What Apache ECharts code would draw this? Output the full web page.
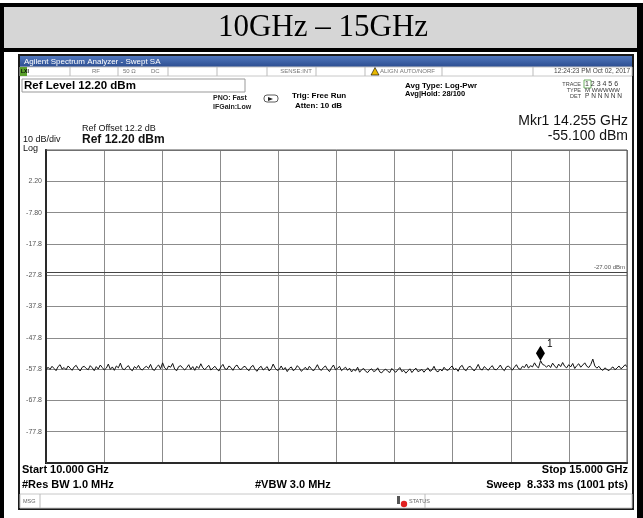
<!DOCTYPE html>
<html>
<head>
<meta charset="utf-8">
<script src="https://cdn.jsdelivr.net/npm/echarts@6/dist/echarts.min.js"></script>
<style>
  html, body { margin: 0; padding: 0; background: #fff; }
  #chart { width: 643px; height: 518px; }
</style>
</head>
<body>
<div id="chart"></div>
<script>
// sweep settings
const freqStart = 10;      // GHz
const freqStop = 15;       // GHz
const refLevel = 12.2;     // dBm
const dbPerDiv = 10;
const displayLine = -27.0; // dBm
const marker = { freq: 14.255, dbm: -55.1 };

// trace, dBm (evenly spaced from start to stop)
const traceDbm = [
  -58.1,-57.2,-57.9,-56.9,-57.6,-58.3,-57.0,-56.4,-57.8,-57.3,
  -58.0,-56.8,-57.5,-58.2,-57.1,-56.6,-57.7,-58.4,-57.2,-56.9,
  -57.6,-58.0,-56.7,-57.4,-58.3,-57.0,-57.8,-56.5,-57.3,-58.1,
  -57.5,-56.2,-57.9,-57.1,-58.2,-56.8,-57.4,-55.9,-57.7,-58.0,
  -57.2,-56.7,-57.9,-58.3,-57.0,-57.6,-56.6,-57.8,-58.1,-57.3,
  -56.9,-57.6,-56.3,-57.9,-58.2,-57.1,-56.5,-57.7,-55.8,-57.4,
  -58.0,-56.8,-57.2,-56.0,-57.8,-58.3,-57.0,-56.7,-57.5,-58.1,
  -57.3,-56.4,-57.9,-57.0,-58.2,-56.9,-57.6,-56.1,-57.4,-58.0,
  -57.2,-56.6,-58.1,-57.5,-56.9,-57.8,-58.4,-57.1,-56.3,-57.7,
  -57.9,-56.8,-57.3,-58.2,-57.0,-56.5,-57.6,-58.0,-57.2,-56.9,
  -57.8,-58.3,-57.1,-56.6,-57.9,-58.5,-57.4,-56.9,-58.1,-57.6,
  -57.0,-58.4,-57.7,-56.2,-57.5,-58.2,-57.9,-56.8,-58.0,-57.3,
  -58.6,-57.6,-57.1,-58.3,-57.8,-56.7,-57.4,-58.5,-57.9,-57.2,
  -58.1,-56.9,-57.7,-58.4,-57.5,-56.4,-57.8,-58.2,-57.3,-56.8,
  -57.9,-58.6,-57.4,-56.5,-58.0,-57.6,-56.9,-58.3,-57.7,-57.2,
  -58.2,-57.5,-58.7,-57.9,-58.4,-57.2,-58.8,-58.0,-57.6,-58.5,
  -58.9,-58.1,-57.7,-58.6,-58.3,-57.4,-58.7,-59.0,-58.2,-57.8,
  -58.5,-58.9,-57.6,-58.3,-58.8,-58.0,-57.3,-58.6,-58.2,-59.1,
  -58.4,-57.7,-58.9,-58.1,-57.5,-58.6,-58.3,-57.9,-58.8,-58.0,
  -57.4,-58.5,-58.1,-56.9,-58.3,-58.7,-57.8,-58.4,-57.2,-58.0,
  -58.2,-57.4,-56.8,-58.0,-57.6,-58.5,-57.1,-56.6,-57.9,-58.3,
  -57.2,-56.9,-57.7,-58.4,-57.5,-56.3,-57.8,-58.1,-57.0,-57.6,
  -58.2,-57.3,-56.7,-57.9,-58.0,-57.4,-56.5,-57.7,-58.3,-57.1,
  -56.8,-57.5,-58.1,-57.2,-56.4,-57.6,-57.9,-56.9,-57.3,-56.2,
  -57.5,-56.7,-57.1,-55.8,-56.9,-57.4,-55.1,-56.3,-56.6,-57.2,
  -56.5,-57.3,-55.9,-56.8,-57.5,-56.2,-57.0,-55.7,-56.9,-57.4,
  -56.4,-57.1,-56.0,-57.6,-56.7,-56.1,-57.2,-56.5,-55.8,-56.9,
  -57.3,-56.3,-54.6,-56.8,-57.5,-56.9,-57.8,-58.2,-57.4,-57.9,
  -58.3,-57.6,-57.1,-58.0,-57.5,-56.8,-57.7,-57.2,-56.4,-57.0
];

// graticule labels, bottom division line to top division line
const yTickLabels = ['-77.8', '-67.8', '-57.8', '-47.8', '-37.8', '-27.8', '-17.8', '-7.80', '2.20'];

const freqGHz = traceDbm.map((_, i) => freqStart + i * (freqStop - freqStart) / (traceDbm.length - 1));

const sans = '"Liberation Sans", Arial, sans-serif';

function txt(x, y, text, size, opts) {
  opts = opts || {};
  return {
    type: 'text', x: x, y: y, silent: true,
    style: {
      text: text,
      font: (opts.bold ? 'bold ' : '') + size + 'px ' + (opts.family || sans),
      fill: opts.color || '#000',
      textAlign: opts.align || 'left',
      textVerticalAlign: 'middle'
    }
  };
}
function rect(x, y, w, h, fill, stroke, lw) {
  return {
    type: 'rect', silent: true,
    shape: { x: x, y: y, width: w, height: h },
    style: { fill: fill || 'none', stroke: stroke || 'none', lineWidth: lw || 1 }
  };
}
function vline(x, y1, y2, color) {
  return { type: 'line', silent: true, shape: { x1: x, y1: y1, x2: x, y2: y2 }, style: { stroke: color || '#bbb', lineWidth: 1 } };
}

const chart = echarts.init(document.getElementById('chart'));

const graphics = [
  // outer table frame and header
  rect(0, 3, 643, 515, '#000'),
  rect(4, 7, 633, 41, '#d6d6d6'),
  rect(4, 52, 633, 466, '#fff'),
  txt(323, 28, '10GHz \u2013 15GHz', 31, { align: 'center', family: '"Liberation Serif", "Times New Roman", serif' }),

  // analyzer screen
  rect(19, 55, 614, 454, '#fff', '#1a1a1a', 2),
  {
    type: 'rect', silent: true,
    shape: { x: 20, y: 56, width: 612, height: 11 },
    style: {
      fill: { type: 'linear', x: 0, y: 0, x2: 0, y2: 1,
        colorStops: [{ offset: 0, color: '#5077bd' }, { offset: 1, color: '#2c4d90' }] }
    }
  },
  txt(24, 61.5, 'Agilent Spectrum Analyzer - Swept SA', 8, { color: '#fff' }),

  // status row
  rect(20, 67, 612, 9, '#fff', '#c8c8c8'),
  rect(20, 67, 7, 9, '#5aa02c'),
  txt(21, 71.5, 'LXI', 5, { bold: true }),
  vline(70, 67, 76), vline(118, 67, 76), vline(168, 67, 76), vline(217, 67, 76),
  vline(267, 67, 76), vline(316, 67, 76), vline(365, 67, 76), vline(442, 67, 76), vline(533, 67, 76),
  txt(96, 71.5, 'RF', 6, { color: '#777', align: 'center' }),
  txt(123, 71.5, '50 \u03a9', 6, { color: '#777' }),
  txt(151, 71.5, 'DC', 6, { color: '#777' }),
  txt(296, 71.5, 'SENSE:INT', 6, { color: '#777', align: 'center' }),
  { type: 'polygon', silent: true, shape: { points: [[371, 75], [375, 67.5], [379, 75]] }, style: { fill: '#e8b800', stroke: '#000', lineWidth: 0.6 } },
  txt(380, 71.5, 'ALIGN AUTO/NORF', 6, { color: '#777' }),
  txt(630, 71.5, '12:24:23 PM Oct 02, 2017', 6.5, { color: '#444', align: 'right' }),

  // settings area
  rect(22, 79, 223, 13, '#fff', '#999'),
  txt(24, 86, 'Ref Level 12.20 dBm', 11.5, { bold: true }),
  txt(213, 98, 'PNO: Fast', 7, { bold: true, color: '#222' }),
  txt(213, 107, 'IFGain:Low', 7, { bold: true, color: '#222' }),
  { type: 'rect', silent: true, shape: { x: 264, y: 95, width: 14, height: 7, r: 3 }, style: { fill: 'none', stroke: '#333', lineWidth: 0.8 } },
  { type: 'polygon', silent: true, shape: { points: [[268, 97], [273, 99], [268, 101]] }, style: { fill: '#222' } },
  txt(292, 96, 'Trig: Free Run', 8, { bold: true }),
  txt(295, 106, 'Atten: 10 dB', 8, { bold: true }),
  txt(405, 86, 'Avg Type: Log-Pwr', 8, { bold: true }),
  txt(405, 94, 'Avg|Hold: 28/100', 7.5, { bold: true }),
  txt(581, 84, 'TRACE', 5.5, { color: '#444', align: 'right' }),
  txt(581, 90, 'TYPE', 5.5, { color: '#444', align: 'right' }),
  txt(581, 96, 'DET', 5.5, { color: '#444', align: 'right' }),
  rect(584, 80, 7, 8, 'none', '#4a9a3a', 0.8),
  txt(585, 84, '1 2 3 4 5 6', 7, { color: '#333' }),
  txt(585, 90, 'M WWWWW', 6, { color: '#333' }),
  txt(585, 96.5, 'P N N N N N', 6.5, { color: '#333' }),
  txt(628, 121, 'Mkr1 14.255 GHz', 14, { align: 'right', color: '#111' }),
  txt(628, 136, '-55.100 dBm', 14, { align: 'right', color: '#111' }),
  txt(82, 129, 'Ref Offset 12.2 dB', 9, { color: '#111' }),
  txt(82, 140, 'Ref 12.20 dBm', 12, { bold: true, color: '#111' }),
  txt(23, 140, '10 dB/div', 9, { color: '#111' }),
  txt(23, 148.5, 'Log', 9, { color: '#111' }),

  // bottom annotations
  txt(22, 470, 'Start 10.000 GHz', 11, { bold: true }),
  txt(628, 470, 'Stop 15.000 GHz', 11, { bold: true, align: 'right' }),
  txt(22, 485, '#Res BW 1.0 MHz', 11, { bold: true }),
  txt(255, 485, '#VBW 3.0 MHz', 11, { bold: true }),
  txt(628, 485, 'Sweep  8.333 ms (1001 pts)', 11, { bold: true, align: 'right' }),

  // message bar
  rect(20, 494, 612, 14, '#fff', '#c8c8c8'),
  vline(40, 494, 508), vline(425, 494, 508),
  txt(23, 501, 'MSG', 5.5, { color: '#666' }),
  rect(397, 496, 3, 8, '#555'),
  { type: 'circle', silent: true, shape: { cx: 404, cy: 504, r: 3.2 }, style: { fill: '#e02020' } },
  txt(409, 501, 'STATUS', 5.5, { color: '#666' })
];

chart.setOption({
  animation: false,
  backgroundColor: '#fff',
  graphic: { elements: graphics },
  grid: { left: 46, top: 150, width: 581, height: 313, show: true, borderColor: '#555', borderWidth: 1, z: 5 },
  xAxis: {
    type: 'value', min: freqStart, max: freqStop, interval: 0.5,
    axisLabel: { show: false }, axisTick: { show: false },
    axisLine: { onZero: false, lineStyle: { color: '#000', width: 2 } },
    splitLine: { lineStyle: { color: '#8c8c8c', width: 1 } }
  },
  yAxis: [
    {
      type: 'value', min: refLevel - 10 * dbPerDiv, max: refLevel, show: false
    },
    {
      // graticule divisions, 0 = bottom line, 10 = reference level
      type: 'value', min: 0, max: 10, interval: 1, position: 'left',
      axisLine: { show: true, onZero: false, lineStyle: { color: '#000', width: 2 } },
      axisTick: { show: false },
      axisLabel: {
        formatter: v => yTickLabels[v - 1] || '',
        color: '#555', fontSize: 7, margin: 4, fontFamily: sans
      },
      splitLine: { lineStyle: { color: '#8c8c8c', width: 1 } }
    }
  ],
  series: [{
    type: 'line',
    yAxisIndex: 0,
    data: freqGHz.map((f, i) => [f, traceDbm[i]]),
    symbol: 'none',
    lineStyle: { color: '#111', width: 1 },
    z: 10,
    markLine: {
      silent: true, symbol: 'none',
      lineStyle: { color: '#444', type: 'solid', width: 1 },
      label: { formatter: '-27.00 dBm', position: 'insideEndTop', fontSize: 6, color: '#555', distance: 2 },
      data: [{ yAxis: displayLine }]
    },
    markPoint: {
      silent: true,
      symbol: 'diamond', symbolSize: [9, 15], symbolOffset: [0, '-50%'],
      itemStyle: { color: '#000' },
      label: { show: true, formatter: '1', position: [11, -6], fontSize: 10, color: '#000', fontFamily: sans },
      data: [{ coord: [marker.freq, marker.dbm] }]
    }
  }]
});
</script>
</body>
</html>
